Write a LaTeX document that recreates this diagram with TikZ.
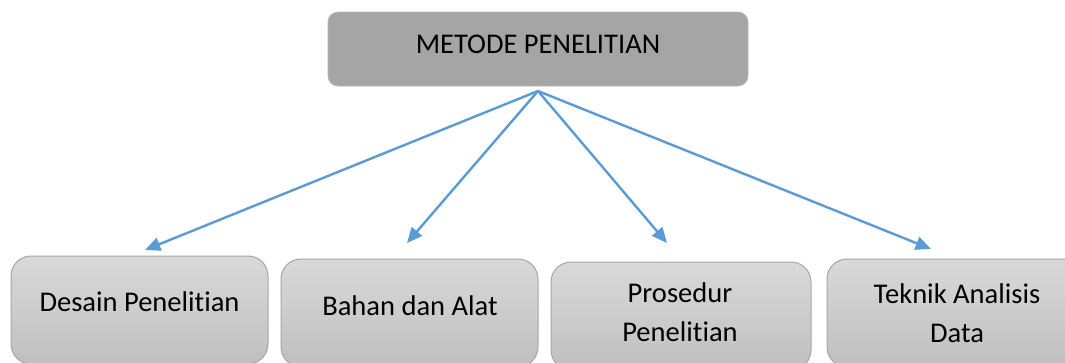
\documentclass[tikz,border=0pt]{standalone}
\usepackage{fontspec}
\setmainfont{Carlito}[Ligatures={NoCommon}]
\usetikzlibrary{arrows.meta}
\definecolor{arrowblue}{HTML}{5B9BD5}
\definecolor{topgray}{HTML}{A5A5A5}
\definecolor{boxtop}{HTML}{D9D9D9}
\definecolor{boxbot}{HTML}{BFBFBF}
\definecolor{boxline}{HTML}{A6A6A6}
\tikzset{
  topbox/.style={rectangle, rounded corners=7.5pt, fill=topgray, draw=topgray!80!white, line width=0.5pt,
    minimum width=315pt, minimum height=55.5pt, inner sep=0pt},
  subbox/.style={rectangle, rounded corners=15pt, top color=boxtop, bottom color=boxbot, draw=boxline,
    line width=0.75pt, minimum height=81pt, inner sep=0pt},
  lbl/.style={inner sep=0pt, align=center, font=\fontsize{21.4}{28.9}\selectfont, text=black},
  conn/.style={draw=arrowblue, line width=1.8pt, -{Triangle[length=11.5pt,width=10pt]}}
}
\begin{document}
\begin{tikzpicture}[x=0.75pt,y=-0.75pt]
\clip (0,0) rectangle (1065,362);
\fill[white] (0,0) rectangle (1065,362);
% top box
\node[topbox] (m) at (538,49) {};
\node[lbl] (mt) at (538,44) {METODE PENELITIAN};
% bottom boxes
\node[subbox, minimum width=192.75pt] (b1) at (139.5,310) {};
\node[subbox, minimum width=192.75pt] (b2) at (409.5,313) {};
\node[subbox, minimum width=195pt] (b3) at (681,316) {};
\node[subbox, minimum width=195pt] (b4) at (957,313) {};
\node[lbl] (l1) at (139.5,302) {Desain Penelitian};
\node[lbl] (l2) at (410,306) {Bahan dan Alat};
\node[lbl] (l3) at (680,312) {Prosedur\\Penelitian};
\node[lbl] (l4) at (957,313) {Teknik Analisis\\Data};
% connectors
\coordinate (o) at (538,91);
\coordinate (t1) at (145,250);
\coordinate (t2) at (407,243);
\coordinate (t3) at (667,243);
\coordinate (t4) at (931,249);
\draw[conn] (o) -- (t1);
\draw[conn] (o) -- (t2);
\draw[conn] (o) -- (t3);
\draw[conn] (o) -- (t4);
\end{tikzpicture}
\end{document}
